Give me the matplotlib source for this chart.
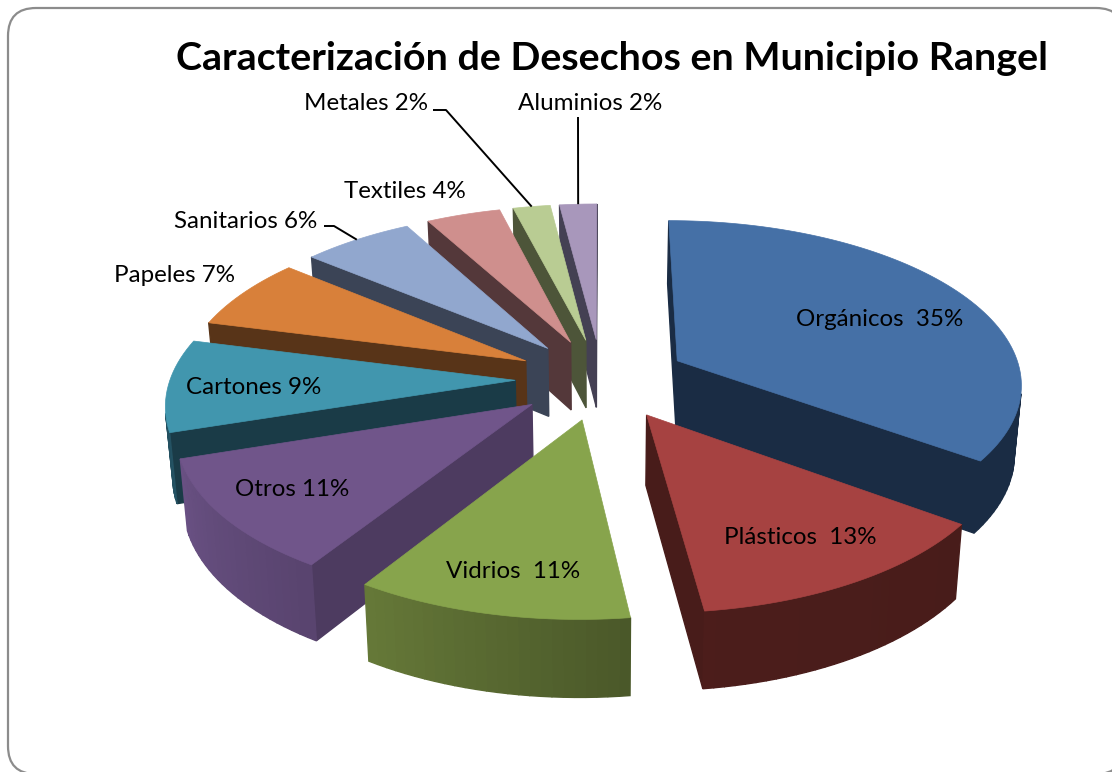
import numpy as np
import matplotlib
matplotlib.use("Agg")
import matplotlib.pyplot as plt
from matplotlib.patches import FancyBboxPatch, Polygon

# datos
categorias = ["Orgánicos", "Plásticos", "Vidrios", "Otros", "Cartones",
              "Papeles", "Sanitarios", "Textiles", "Metales", "Aluminios"]
porcentajes = [35, 13, 11, 11, 9, 7, 6, 4, 2, 2]
etiquetas = ["Orgánicos  35%", "Plásticos  13%", "Vidrios  11%", "Otros 11%", "Cartones 9%",
             "Papeles 7%", "Sanitarios 6%", "Textiles 4%", "Metales 2%", "Aluminios 2%"]
titulo = "Caracterización de Desechos en Municipio Rangel"

color_cara = ["#4570A6", "#A64241", "#87A44C", "#70558A", "#4196AE",
              "#D8803A", "#91A7CE", "#CF8F8D", "#B9CC93", "#A897BB"]
color_pared = ["#1A2C44", "#481C1A", "#4A5829", "#4D3B60", "#1A3B47",
               "#583418", "#3B4456", "#54383A", "#4D5539", "#444053"]

# posicion de las etiquetas (centro, en pixeles)
pos_etiquetas = [(880, 320), (800, 538), (513, 572), (292, 490), (254, 388),
                 (175, 275), (246, 222), (405, 192), (366, 104), (590, 104)]
# lineas guia: categoria -> puntos del lado de la etiqueta
guias = {"Metales": [(433, 110), (446, 110)],
         "Aluminios": [(578, 117)],
         "Sanitarios": [(324, 226), (334, 226)]}

# parametros de la proyeccion
CX, CY = 601.5, 379
RX, RY = 345, 162.5
EXPLOTA = 0.25
PERSP = 0.000788
ALTO = 69
ESCALA_BASE = 0.983


def proyectar(x, y, base=False):
    """pasa del plano del pastel (radio 1) a pixeles"""
    yy = RY * np.asarray(y)
    u = 1 / (1 + PERSP * yy)
    sx = RX * np.asarray(x) * u
    sy = -yy * u
    if base:
        return CX + sx * ESCALA_BASE, CY + sy * ESCALA_BASE + ALTO * u
    return CX + sx, CY + sy


def area(p):
    x, y = np.array(p).T
    return 0.5 * np.sum(x * np.roll(y, -1) - np.roll(x, -1) * y)


def cuadro(ax, a, b, c, d, color, z):
    p = [a, b, c, d]
    if area(p) < 0:  # solo las caras que miran al frente
        ax.add_patch(Polygon(p, closed=True, fc=color, ec=color, lw=1.0, zorder=z))


def sombra_arco(angulo):
    # el brillo cambia de una rebanada a otra
    return np.interp(angulo,
                     [126, 172.9, 173, 212.9, 213, 252.9, 253, 268, 285],
                     [1.0, 1.05, 1.0, 1.38, 1.15, 1.37, 1.45, 1.15, 1.0])


def aclarar(color, f):
    rgb = np.array(matplotlib.colors.to_rgb(color)) * f
    return tuple(np.clip(rgb, 0, 1))


fig = plt.figure(figsize=(11.12, 7.72), dpi=100)
ax = fig.add_axes([0, 0, 1, 1])
ax.set_xlim(0, 1112)
ax.set_ylim(772, 0)
ax.axis("off")

plt.rcParams["font.family"] = ["Lato", "DejaVu Sans"]

# marco redondeado
ax.add_patch(FancyBboxPatch((36, 36), 1060, 710, boxstyle="round,pad=28,rounding_size=28",
                            fc="white", ec="#8C8C8C", lw=1.6, zorder=0, clip_on=False))

acumulado = np.cumsum([0] + porcentajes) * 3.6
medios = []
rebanadas = []
for i in range(len(porcentajes)):
    t1, t2 = acumulado[i], acumulado[i + 1]
    m = np.radians((t1 + t2) / 2)
    medios.append(m)
    rebanadas.append((i, t1, t2, EXPLOTA * np.sin(m), EXPLOTA * np.cos(m)))

# de atras hacia adelante
rebanadas.sort(key=lambda r: -r[4])
for orden, (i, t1, t2, ex, ey) in enumerate(rebanadas):
    z = 2 + orden * 3
    angs = np.linspace(t1, t2, max(int((t2 - t1) / 1.5), 4))
    rad = np.radians(angs)
    xs, ys = ex + np.sin(rad), ey + np.cos(rad)
    top = list(zip(*proyectar(xs, ys)))
    bot = list(zip(*proyectar(xs, ys, base=True)))
    ap_t = tuple(proyectar(ex, ey))
    ap_b = tuple(proyectar(ex, ey, base=True))
    # paredes rectas
    cuadro(ax, ap_t, top[0], bot[0], ap_b, color_pared[i], z)
    cuadro(ax, top[-1], ap_t, ap_b, bot[-1], color_pared[i], z)
    # pared curva por facetas
    for k in range(len(angs) - 1):
        f = sombra_arco((angs[k] + angs[k + 1]) / 2)
        cuadro(ax, top[k], top[k + 1], bot[k + 1], bot[k], aclarar(color_pared[i], f), z + 1)
    ax.add_patch(Polygon([ap_t] + top, closed=True, fc=color_cara[i], ec=color_cara[i],
                         lw=0.5, zorder=z + 2))

# textos
ax.text(612, 58, titulo, fontsize=28.4, fontweight="bold", ha="center", va="center",
        color="black", zorder=100)
for i, txt in enumerate(etiquetas):
    ax.text(pos_etiquetas[i][0], pos_etiquetas[i][1], txt, fontsize=17.4, ha="center",
            va="center", color="black", zorder=100)

for nombre, puntos in guias.items():
    i = categorias.index(nombre)
    m = medios[i]
    fin = proyectar(EXPLOTA * np.sin(m) + np.sin(m), EXPLOTA * np.cos(m) + np.cos(m))
    gx, gy = zip(*(puntos + [tuple(fin)]))
    ax.plot(gx, gy, color="black", lw=1.4, zorder=99, solid_capstyle="butt")

fig.savefig("out.png", dpi=100)
